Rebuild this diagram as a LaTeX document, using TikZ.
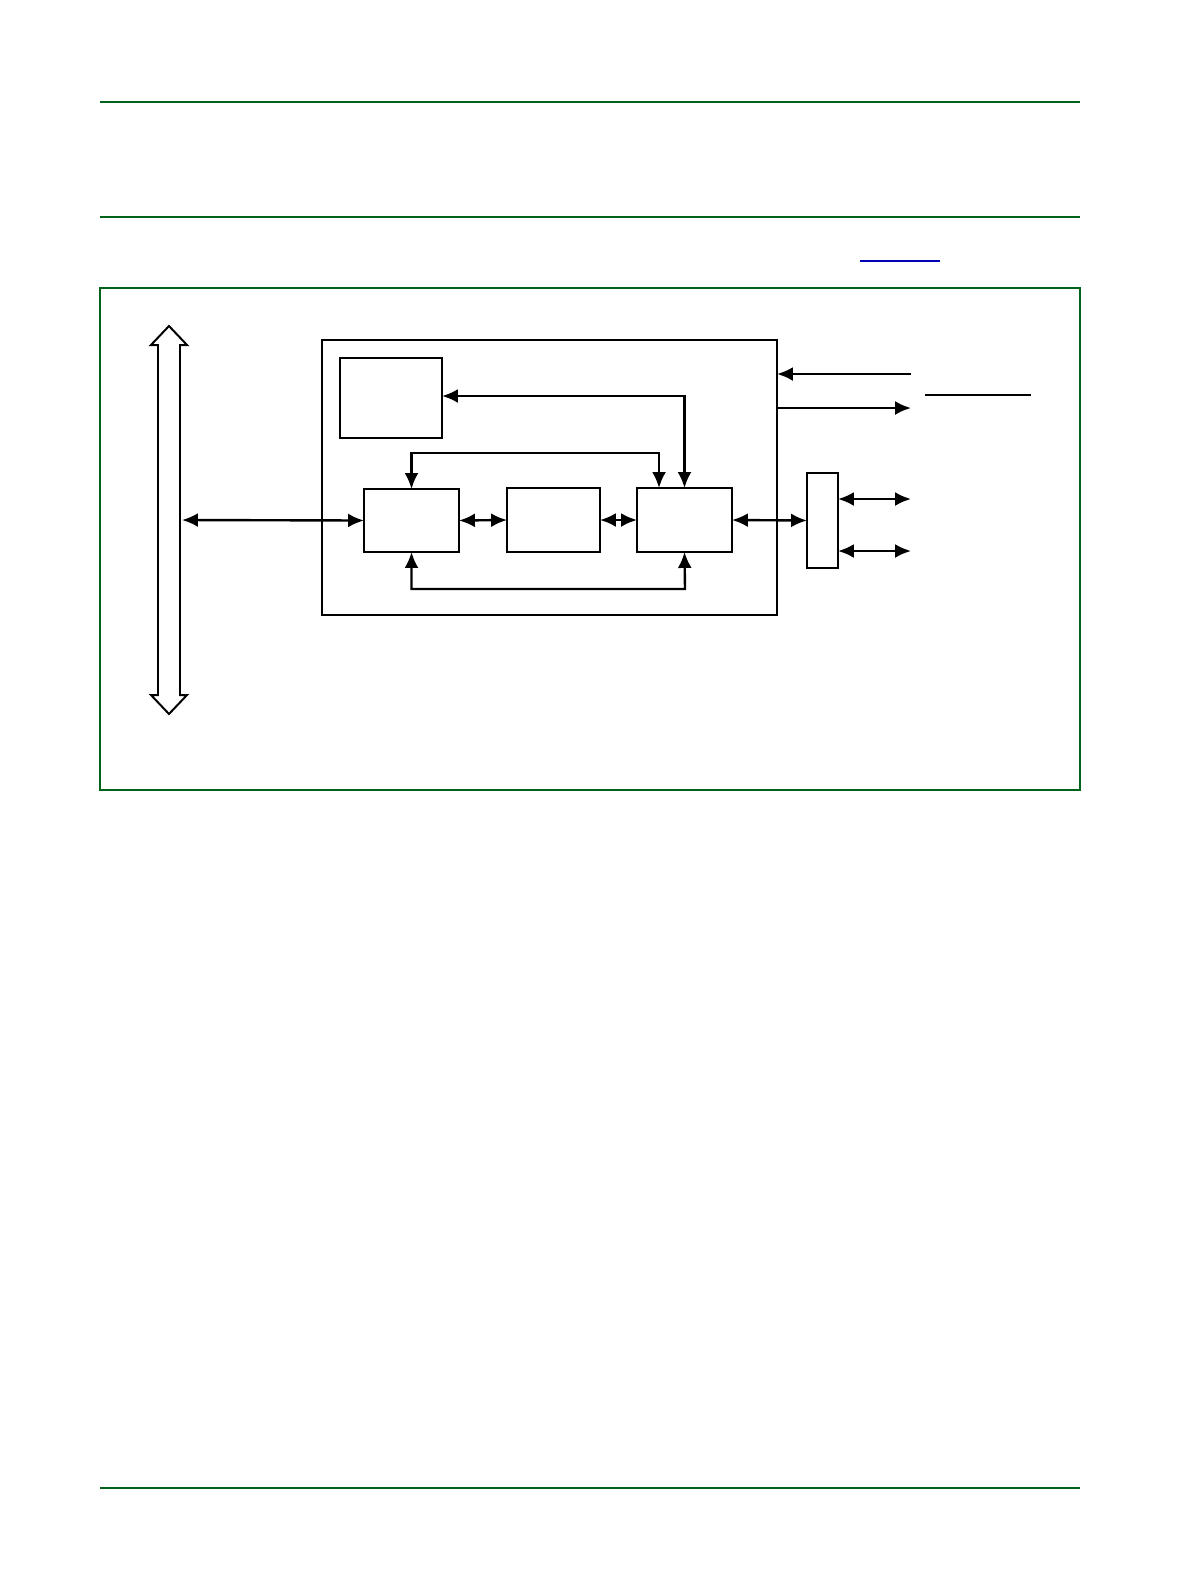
\documentclass[tikz,border=0pt]{standalone}
\usetikzlibrary{arrows.meta}
\begin{document}
\begin{tikzpicture}[x=0.5bp,y=-0.5bp,
  blk/.style={draw,line width=1.2pt},
  con/.style={line width=1.2pt,{Latex[length=8pt,width=7pt]}-{Latex[length=8pt,width=7pt]}},
  one/.style={line width=1.2pt,-{Latex[length=8pt,width=7pt]}},
  grn/.style={draw=green!35!black!80!teal,line width=0.8pt}]
\useasboundingbox (0,0) rectangle (1192,1584);
\draw[grn] (100,102) -- (1080,102);
\draw[grn] (100,217) -- (1080,217);
\draw[grn] (100,1488) -- (1080,1488);
\draw[blue!70!black,line width=0.8pt] (860,261) -- (940,261);
\draw[grn] (100,288) rectangle (1080,790);
% bus
\draw[line width=1pt] (169,326) -- (187,345) -- (180,345) -- (180,695) -- (187,695) -- (169,714) -- (151,695) -- (158,695) -- (158,345) -- (151,345) -- cycle;
\coordinate (bus) at (182,520);
\draw[blk] (322,340) rectangle (777,615);
\node[blk,minimum width=51bp,minimum height=40bp,inner sep=0,outer sep=0] (S) at (391,398) {};
\node[blk,minimum width=47.5bp,minimum height=31.5bp,inner sep=0,outer sep=0] (A) at (411.5,520.5) {};
\node[blk,minimum width=46.5bp,minimum height=32bp,inner sep=0,outer sep=0] (B) at (553.5,520) {};
\node[blk,minimum width=47.5bp,minimum height=32bp,inner sep=0,outer sep=0] (C) at (684.5,520) {};
\node[blk,minimum width=15.5bp,minimum height=47.5bp,inner sep=0,outer sep=0] (P) at (822.5,520.5) {};
\draw[con] (bus) -- (A.west);
\draw[con] (A.east) -- (B.west);
\draw[con] (B.east) -- (C.west);
\draw[con] (C.east) -- (P.west);
\draw[con] (S.east |- 0,396) -| (C.north);
\draw[con] (A.north) |- (659,453) -- (659,488);
\draw[con] (A.south) |- (685,589) -- (C.south);
\coordinate (r1) at (911,374); \coordinate (r2) at (911,408);
\draw[one] (r1) -- (777,374);
\draw[one] (777,408) -- (r2);
\draw[line width=1.2pt] (925,395) -- (1031,395);
\coordinate (q1) at (911,499); \coordinate (q2) at (911,551);
\draw[con] (P.east |- q1) -- (q1);
\draw[con] (P.east |- q2) -- (q2);
\end{tikzpicture}
\end{document}
